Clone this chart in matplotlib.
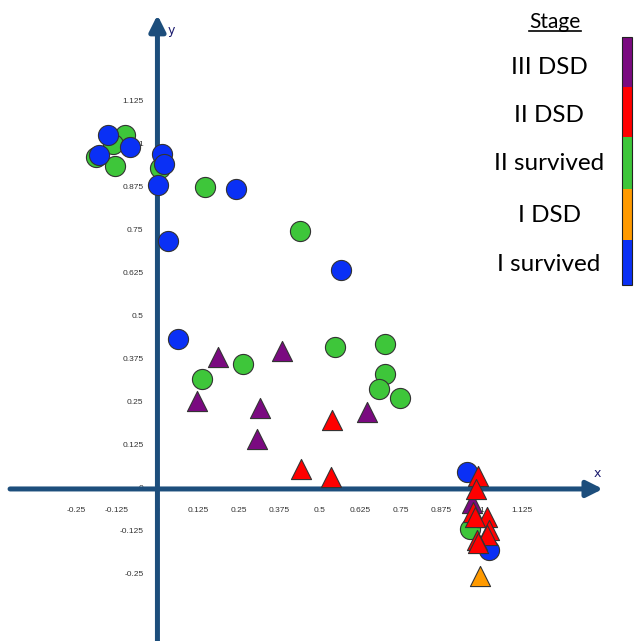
import numpy as np
import matplotlib
matplotlib.use("Agg")
import matplotlib.pyplot as plt
from matplotlib.patches import Rectangle
from matplotlib.lines import Line2D

# stage groups: (x, y) coordinates in the projected space
i_survived_x = [-0.153, -0.085, -0.181, 0.014, 0.020, 0.002, 0.242, 0.032, 0.566, 0.063, 0.955, 1.023]
i_survived_y = [1.030, 0.993, 0.970, 0.975, 0.946, 0.885, 0.871, 0.720, 0.636, 0.435, 0.049, -0.177]

ii_survived_x = [-0.100, -0.137, -0.190, -0.131, 0.008, 0.147, 0.440, 0.548, 0.702, 0.264, 0.137, 0.702, 0.684, 0.748, 0.965]
ii_survived_y = [1.028, 1.004, 0.964, 0.938, 0.932, 0.877, 0.749, 0.412, 0.421, 0.363, 0.319, 0.334, 0.290, 0.264, -0.116]

iii_dsd_x = [0.187, 0.384, 0.122, 0.316, 0.647, 0.307, 0.971]
iii_dsd_y = [0.383, 0.401, 0.255, 0.235, 0.224, 0.145, -0.041]

ii_dsd_x = [0.539, 0.443, 0.536, 0.989, 0.983, 0.974, 1.017, 0.981, 1.023, 1.017, 0.986, 0.989]
ii_dsd_y = [0.200, 0.058, 0.035, 0.038, 0.000, -0.067, -0.081, -0.081, -0.119, -0.134, -0.148, -0.157]

i_dsd_x = [0.995]
i_dsd_y = [-0.253]

x_ticks = [-0.25, -0.125, 0, 0.125, 0.25, 0.375, 0.5, 0.625, 0.75, 0.875, 1, 1.125]
y_ticks = [-0.25, -0.125, 0, 0.125, 0.25, 0.375, 0.5, 0.625, 0.75, 0.875, 1, 1.125]

stages = ["III DSD", "II DSD", "II survived", "I DSD", "I survived"]
stage_colors = ["#7a0a80", "#ff0000", "#3ec63a", "#ff9a00", "#0a30f5"]

AXIS_COL = "#1d4e7c"

fig = plt.figure(figsize=(6.34, 6.41), dpi=100)
ax = fig.add_axes([0, 0, 1, 1])
ax.set_xlim(-0.486, 1.471)
ax.set_ylim(-0.442, 1.4215)
ax.axis("off")

# tick labels (drawn under the axes and points)
for t in x_ticks:
    lab = "0" if t == 0 else ("%g" % t)
    ax.text(t, -0.064, lab, ha="center", va="center", fontsize=6,
            family="Liberation Sans", color="#333333", zorder=1)
for t in y_ticks:
    lab = "0" if t == 0 else ("%g" % t)
    ax.text(-0.043, t, lab, ha="right", va="center", fontsize=6,
            family="Liberation Sans", color="#333333", zorder=1)

# axes with arrow heads
ax.annotate("", xy=(1.375, 0), xytext=(-0.455, 0),
            arrowprops=dict(arrowstyle="-|>", lw=3.6, color=AXIS_COL,
                            mutation_scale=24, shrinkA=0, shrinkB=0), zorder=2)
ax.annotate("", xy=(0, 1.378), xytext=(0, -0.46),
            arrowprops=dict(arrowstyle="-|>", lw=3.6, color=AXIS_COL,
                            mutation_scale=24, shrinkA=0, shrinkB=0), zorder=2)
ax.text(1.359, 0.044, "x", fontsize=9, color="#1a1a6e", ha="center", va="center")
ax.text(0.042, 1.334, "y", fontsize=9, color="#1a1a6e", ha="center", va="center")

kw = dict(s=210, edgecolors="#333333", linewidths=0.8, zorder=3)
ax.scatter(ii_survived_x, ii_survived_y, marker="o", c=stage_colors[2], **kw)
ax.scatter(i_survived_x, i_survived_y, marker="o", c=stage_colors[4], **kw)
ax.scatter(iii_dsd_x, iii_dsd_y, marker="^", c=stage_colors[0], **kw)
ax.scatter(ii_dsd_x, ii_dsd_y, marker="^", c=stage_colors[1], **kw)
ax.scatter(i_dsd_x, i_dsd_y, marker="^", c=stage_colors[3], **kw)

# legend: stage names and a stacked colour strip
W, H = 634, 641
title = fig.text(555 / W, 1 - 22 / H, "Stage", ha="center", va="center",
                 fontsize=15, family="Lato")
label_y = [67, 116, 164, 215, 265]
for name, py in zip(stages, label_y):
    fig.text(549 / W, 1 - py / H, name, ha="center", va="center",
             fontsize=17.5, family="Lato")

edges = [37, 87, 137, 189, 240, 285]
for i, col in enumerate(stage_colors):
    top, bot = edges[i], edges[i + 1]
    fig.add_artist(Rectangle((622 / W, 1 - bot / H), 10 / W, (bot - top) / H,
                             transform=fig.transFigure, facecolor=col,
                             edgecolor="none"))
fig.add_artist(Rectangle((622 / W, 1 - 285 / H), 10 / W, 248 / H,
                         transform=fig.transFigure, facecolor="none",
                         edgecolor="#222222", lw=0.8))

# underline the legend title
fig.canvas.draw()
bb = title.get_window_extent().transformed(fig.transFigure.inverted())
uy = bb.y0 + 0.002
fig.add_artist(Line2D([bb.x0, bb.x1], [uy, uy], transform=fig.transFigure,
                      color="black", lw=1.2))

fig.savefig("out.png", dpi=100)
